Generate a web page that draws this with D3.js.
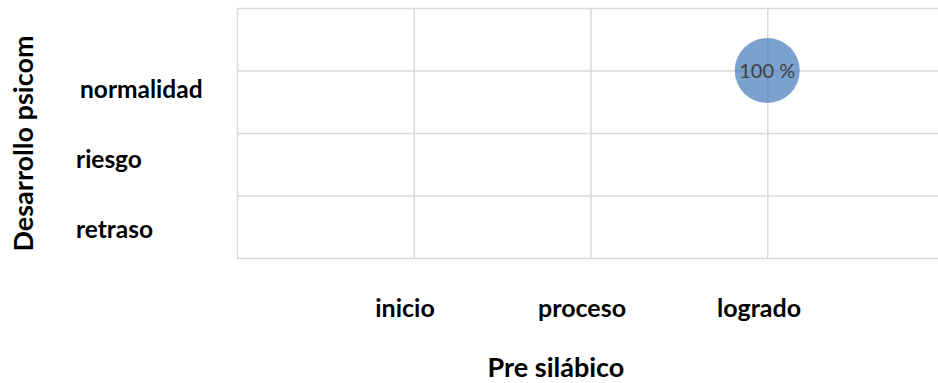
<!DOCTYPE html>
<html><head><meta charset="utf-8">
<script src="https://cdn.jsdelivr.net/npm/d3@7"></script>
<style>body{margin:0;background:#fff;} svg{display:block;} text{font-family:Lato, "Open Sans", sans-serif;}</style>
</head><body>
<script>
const xCategories = ["inicio", "proceso", "logrado"];
const yCategories = ["retraso", "riesgo", "normalidad"];
const xTicks = [0, 1, 2, 3, 4];
const yTicks = [0, 1, 2, 3, 4];
const bubbleX = [3];
const bubbleY = [3];
const bubbleSize = [100];
const bubbleLabels = ["100 %"];
const xTitle = "Pre silábico";
const yTitle = "Desarrollo psicom";

const W = 938, H = 383;
const svg = d3.select("body").append("svg").attr("width", W).attr("height", H);

const x = d3.scaleLinear().domain([0, 4]).range([237, 944]);
const y = d3.scaleLinear().domain([0, 4]).range([258, 8]);
const r = d3.scaleSqrt().domain([0, 100]).range([0, 32.5]);
const xLab = d3.scaleLinear().domain([1, 3]).range([405, 759]);
const yLab = d3.scaleLinear().domain([1, 3]).range([229, 89]);

// gridlines
const gx = svg.append("g").attr("transform", `translate(0,${y(0)})`)
  .call(d3.axisBottom(x).tickValues(xTicks).tickSize(-(y(0) - y(4))).tickFormat(""));
const gy = svg.append("g").attr("transform", `translate(${x(0)},0)`)
  .call(d3.axisLeft(y).tickValues(yTicks).tickSize(-(x(4) - x(0))).tickFormat(""));
[gx, gy].forEach(g => {
  g.select(".domain").remove();
  g.selectAll(".tick line").attr("stroke", "#d9d9d9").attr("stroke-width", 1.5);
});

// bubbles
const data = bubbleX.map((v, i) => ({x: v, y: bubbleY[i], s: bubbleSize[i], l: bubbleLabels[i]}));
svg.selectAll("circle.b").data(data).join("circle").attr("class", "b")
  .attr("cx", d => x(d.x)).attr("cy", d => y(d.y)).attr("r", d => r(d.s))
  .attr("fill", "#4f81bd").attr("fill-opacity", 0.75);
svg.selectAll("text.bl").data(data).join("text").attr("class", "bl")
  .attr("x", d => x(d.x)).attr("y", d => y(d.y)).attr("dy", "0.35em")
  .attr("text-anchor", "middle").attr("font-size", 20).attr("fill", "#404040")
  .text(d => d.l);

// category labels
svg.selectAll("text.xl").data(xCategories).join("text").attr("class", "xl")
  .attr("x", (d, i) => xLab(i + 1)).attr("y", 308).attr("dy", "0.35em")
  .attr("text-anchor", "middle").attr("font-size", 25).attr("font-weight", "bold").attr("fill", "#000")
  .text(d => d);
svg.selectAll("text.yl").data(yCategories).join("text").attr("class", "yl")
  .attr("x", (d, i) => d === "normalidad" ? 80 : 76).attr("y", (d, i) => yLab(i + 1)).attr("dy", "0.35em")
  .attr("text-anchor", "start").attr("font-size", 24.5).attr("font-weight", "bold").attr("fill", "#000")
  .text(d => d);

// axis titles
svg.append("text").attr("x", 556).attr("y", 368).attr("dy", "0.35em")
  .attr("text-anchor", "middle").attr("font-size", 27).attr("font-weight", "bold").text(xTitle);
svg.append("text").attr("transform", "translate(23.5,143.5) rotate(-90)").attr("dy", "0.35em")
  .attr("text-anchor", "middle").attr("font-size", 27).attr("font-weight", "bold").text(yTitle);
</script>
</body></html>
